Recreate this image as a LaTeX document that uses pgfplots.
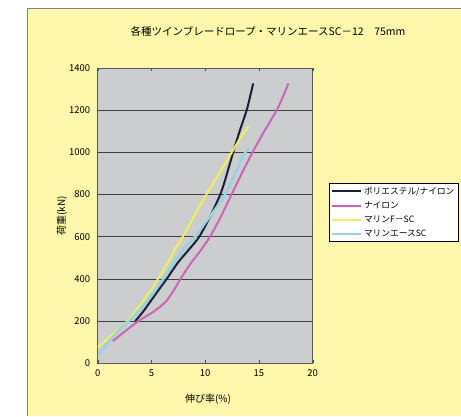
\documentclass[border=0pt]{standalone}
\usepackage{pgfplots}
\pgfplotsset{compat=1.18}
\usepackage{fontspec}
\setmainfont{Noto Sans CJK JP}

\definecolor{panel}{RGB}{255,248,172}
\definecolor{plotbg}{RGB}{204,205,206}
\definecolor{polyc}{RGB}{30,30,60}
\definecolor{nylonc}{RGB}{204,100,185}
\definecolor{marfc}{RGB}{240,240,90}
\definecolor{marscc}{RGB}{150,210,225}

\begin{document}
\begin{tikzpicture}[x=1pt,y=1pt]
\useasboundingbox (0,0) rectangle (461,416);
\clip (0,0) rectangle (461,416);
\fill[white] (0,0) rectangle (461,416);
\fill[panel] (27,0) rectangle (461,408);
\draw[gray,line width=0.8pt] (27,0) -- (27,408) -- (461,408);
\node[font=\fontsize{10.5}{12}\selectfont] at (268,385) {各種ツインブレードロープ・マリンエースSC－12　75mm};

\begin{axis}[
    at={(97.7pt,52.7pt)}, anchor=south west,
    scale only axis,
    width=215pt, height=295.3pt,
    xmin=0, xmax=20, ymin=0, ymax=1400,
    xtick={0,5,10,15,20},
    ytick={0,200,400,600,800,1000,1200,1400},
    ymajorgrids,
    major grid style={draw=black!75, line width=0.6pt},
    axis background/.style={fill=plotbg},
    axis line style={draw=black!65, line width=0.7pt},
    tick style={draw=black!70},
    major tick length=3pt,
    tick align=inside,
    ytick style={draw=none},
    /pgf/number format/assume math mode=true,
    /pgf/number format/1000 sep={},
    tick label style={font=\fontsize{9.5}{11}\selectfont},
    yticklabel style={xshift=-4pt},
    xticklabel style={yshift=-3pt},
    xlabel={伸び率(\%)},
    ylabel={荷重(kN)},
    label style={font=\fontsize{10}{11}\selectfont},
    xlabel style={at={(axis description cs:0.513,-0.122)}, anchor=center},
    ylabel style={at={(axis description cs:-0.166,0.5)}, anchor=center},
    legend style={at={(axis description cs:1.078,0.6106)}, anchor=north west,
        draw=black, fill=white, font=\fontsize{8.7}{10}\selectfont,
        row sep=2pt, inner sep=1.5pt},
    legend cell align=left,
    legend image code/.code={\draw[#1] (0cm,0cm) -- (1.0cm,0cm);},
]
\addplot[polyc, line width=2pt, smooth, tension=0.4] coordinates {
(3.5,200) (4.3,250) (5.0,300) (5.7,350) (6.42,400) (7.5,480) (8.5,540)
(9.45,600) (10.5,700) (11.4,800) (11.8,860) (12.2,930) (12.6,1000)
(13.2,1100) (13.86,1200) (14.2,1270) (14.47,1327)};
\addlegendentry{ポリエステル/ナイロン}
\addplot[nylonc, line width=2pt, smooth, tension=0.4] coordinates {
(1.4,105) (2.5,150) (3.78,200) (5.2,245) (6.3,290) (7.0,340) (7.7,400)
(8.6,470) (9.5,530) (10.45,600) (11.5,700) (12.45,800) (13.4,900)
(14.4,1000) (15.5,1100) (16.65,1200) (17.2,1260) (17.75,1327)};
\addlegendentry{ナイロン}
\addplot[marfc, line width=2pt, smooth, tension=0.4] coordinates {
(0,75) (1,120) (2,165) (2.85,205) (4,280) (5,350) (5.64,403) (6.5,475)
(7.2,540) (7.9,600) (9,700) (10.1,800) (11.3,900) (12.6,1011)
(13.3,1070) (14.0,1122)};
\addlegendentry{マリンF－SC}
\addplot[marscc, line width=2.4pt, smooth, tension=0.4] coordinates {
(0,35) (1,100) (2,160) (3,205) (4,260) (5,320) (6.1,400) (7,470)
(8,540) (9.05,600) (10.5,700) (11.85,800) (12.8,900) (13.6,990)
(14.1,1020)};
\addlegendentry{マリンエースSC}
\end{axis}
\end{tikzpicture}
\end{document}
